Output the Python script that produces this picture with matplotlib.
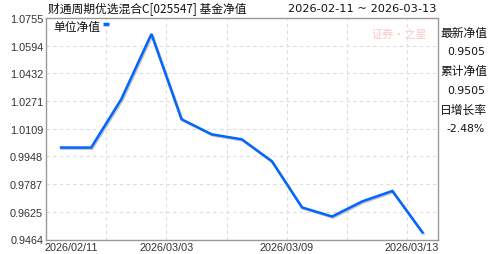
import matplotlib
matplotlib.use('Agg')
import matplotlib.pyplot as plt
import matplotlib.patheffects as pe

# fund NAV, 13 published days
dates = ['2026-02-11', '2026-02-13', '2026-02-27', '2026-03-02', '2026-03-03',
         '2026-03-04', '2026-03-05', '2026-03-06', '2026-03-09', '2026-03-10',
         '2026-03-11', '2026-03-12', '2026-03-13']
nav = [1.0000, 1.0000, 1.0282, 1.0662, 1.0165, 1.0077, 1.0048, 0.9920,
       0.9651, 0.9598, 0.9686, 0.9747, 0.9505]
y_ticks = [0.9464, 0.9625, 0.9787, 0.9948, 1.0109, 1.0271, 1.0432, 1.0594, 1.0755]
x_label_idx = [0, 4, 8, 12]

title = '财通周期优选混合C[025547] 基金净值'
date_range = '2026-02-11 ~ 2026-03-13'
side_info = [('最新净值', '0.9505'), ('累计净值', '0.9505'), ('日增长率', '-2.48%')]

cjk = ['Noto Sans CJK SC', 'DejaVu Sans']
W, H = 488, 255

fig = plt.figure(figsize=(W / 100, H / 100), dpi=100)
fig.patch.set_facecolor('white')
left, right, top, bottom = 46, 437.5, 19, 240.5
ax = fig.add_axes([left / W, 1 - bottom / H, (right - left) / W, (bottom - top) / H])

n = len(nav)
ax.set_xlim(-0.5, n - 0.5)
ax.set_ylim(y_ticks[0], y_ticks[-1])

# grid
for yt in y_ticks[1:-1]:
    ax.axhline(yt, color='#dddddd', lw=0.8, ls=(0, (3, 3)), zorder=1)
for xg in range(1, n, 2):
    ax.axvline(xg + 0.5, color='#dddddd', lw=0.8, ls=(0, (3, 3)), zorder=1)

ax.plot(range(n), nav, color='#0066ff', lw=1.8, zorder=3,
        solid_joinstyle='miter',
        path_effects=[pe.SimpleLineShadow(offset=(0.8, -0.8), shadow_color='#999999', alpha=0.6),
                      pe.Normal()])

for s in ax.spines.values():
    s.set_color('#999999')
    s.set_linewidth(1)

ax.set_xticks([])
ax.set_yticks(y_ticks)
ax.set_yticklabels(['%.4f' % v for v in y_ticks], fontsize=7.8, color='#333333',
                   family='Liberation Sans')
ax.tick_params(axis='y', length=0, pad=2)

# x labels at band left edges
for i in x_label_idx:
    lab = dates[i].replace('-', '/')
    if i == 0:
        ax.text(-0.55, -0.012, lab, transform=ax.get_xaxis_transform(), ha='left', va='top',
                fontsize=7.8, color='#333333', family='Liberation Sans')
    elif i == n - 1:
        ax.text(n - 0.45, -0.012, lab, transform=ax.get_xaxis_transform(), ha='right', va='top',
                fontsize=7.8, color='#333333', family='Liberation Sans')
    else:
        ax.text(i - 0.5, -0.012, lab, transform=ax.get_xaxis_transform(), ha='center', va='top',
                fontsize=7.8, color='#333333', family='Liberation Sans')

# legend
ax.text(0.018, 0.963, '单位净值', transform=ax.transAxes, ha='left', va='center',
        fontsize=8.5, color='#111111', family=cjk)
ax.plot([0.146, 0.162], [0.975, 0.975], transform=ax.transAxes, color='#0066ff', lw=2.5,
        solid_capstyle='butt', clip_on=False)

# watermark
ax.text(0.903, 0.93, '证券·之星', transform=ax.transAxes, ha='center', va='center',
        fontsize=8, color='#f8c8c8', family=cjk, style='italic', zorder=0)

# header
fig.text(48 / W, 1 - 9 / H, title, ha='left', va='center', fontsize=8.5, color='#111111', family=cjk)
fig.text(437 / W, 1 - 9 / H, date_range, ha='right', va='center', fontsize=8.2, color='#111111',
         family='DejaVu Sans')

# side panel
y0 = 33
for k, (name, val) in enumerate(side_info):
    fig.text(440 / W, 1 - (y0 + 38.5 * k) / H, name, ha='left', va='center', fontsize=8.5,
             color='#111111', family=cjk)
    fig.text(485 / W, 1 - (y0 + 19 + 38.5 * k) / H, val, ha='right', va='center', fontsize=7.8,
             color='#111111', family='DejaVu Sans')

fig.savefig('out.png', dpi=100)
